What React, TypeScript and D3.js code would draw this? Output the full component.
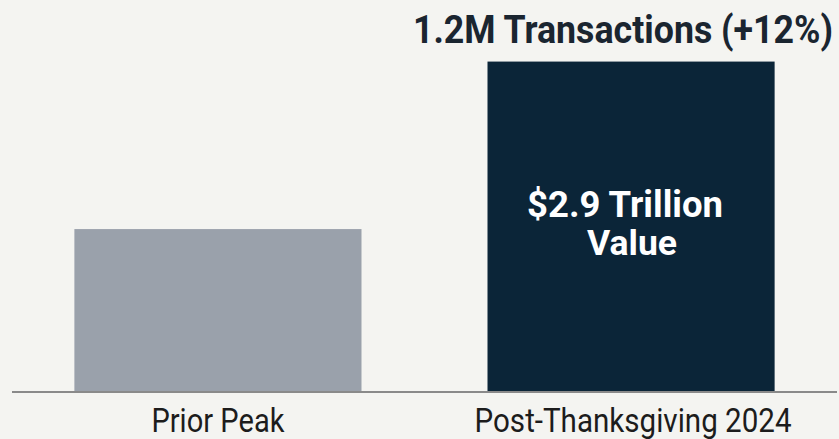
import React from "react";
import * as d3 from "d3";

const categories = ["Prior Peak", "Post-Thanksgiving 2024"];
const values = [1.43, 2.9];
const barColors = ["#9aa1ab", "#0b2538"];
const topLabel = "1.2M Transactions (+12%)";
const innerLines = ["$2.9 Trillion", "Value"];

const W = 839;
const H = 439;
const FONT = "Roboto, 'Open Sans', sans-serif";

export default function App() {
  const x = d3
    .scaleBand<string>()
    .domain(categories)
    .range([12, 837])
    .paddingInner(0.305)
    .paddingOuter(0.151);
  const y = d3.scaleLinear().domain([0, 3.3]).range([392, 16]);
  const bw = x.bandwidth();
  const highlight = categories[1];
  const hx = (x(highlight) as number) + bw / 2;
  const hTop = y(values[1]);
  const hMid = (hTop + y(0)) / 2;

  return (
    <svg
      width={W}
      height={H}
      style={{ position: "absolute", left: 0, top: 0, background: "#f4f4f1" }}
    >
      <rect x={0} y={0} width={W} height={H} fill="#f4f4f1" />
      {categories.map((c, i) => (
        <rect
          key={c}
          x={x(c)}
          y={y(values[i])}
          width={bw}
          height={y(0) - y(values[i])}
          fill={barColors[i]}
        />
      ))}
      <line x1={12} x2={837} y1={y(0)} y2={y(0)} stroke="#8a8a8a" strokeWidth={2} />
      {categories.map((c, i) => (
        <text
          key={c}
          x={(x(c) as number) + bw / 2 + (i === 1 ? 2 : 0)}
          y={432}
          textAnchor="middle"
          fontFamily={FONT}
          fontSize={34}
          fill="#1c1c1c"
          textLength={i === 0 ? 133 : 317}
          lengthAdjust="spacingAndGlyphs"
        >
          {c}
        </text>
      ))}
      <text
        x={623}
        y={43}
        textAnchor="middle"
        fontFamily={FONT}
        fontWeight={700}
        fontSize={39}
        fill="#1a2530"
        textLength={420}
        lengthAdjust="spacingAndGlyphs"
      >
        {topLabel}
      </text>
      <text
        x={hx - 6}
        y={hMid - 10}
        textAnchor="middle"
        fontFamily={FONT}
        fontWeight={700}
        fontSize={37}
        fill="#ffffff"
        textLength={196}
        lengthAdjust="spacingAndGlyphs"
      >
        {innerLines[0]}
      </text>
      <text
        x={hx + 1}
        y={hMid + 28}
        textAnchor="middle"
        fontFamily={FONT}
        fontWeight={700}
        fontSize={35}
        fill="#ffffff"
        textLength={90}
        lengthAdjust="spacingAndGlyphs"
      >
        {innerLines[1]}
      </text>
    </svg>
  );
}
